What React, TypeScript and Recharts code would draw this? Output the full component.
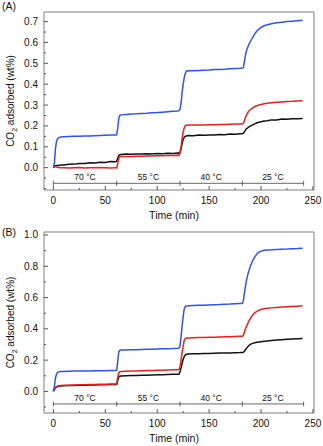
import { LineChart, Line, XAxis, YAxis, ReferenceArea, ReferenceLine, ReferenceDot } from "recharts"

const FONT = '"Liberation Sans", Arial, sans-serif'

// time axis (min), shared by every series
const TIME = [
  0, 1, 2, 3, 4, 5, 7, 10, 15, 20, 25, 30, 35, 40, 45, 50, 55, 60, 61,
  62, 63, 64, 65, 70, 75, 80, 85, 90, 95, 100, 105, 110, 115, 120, 121,
  122, 123, 124, 125, 126, 127, 128, 130, 135, 140, 145, 150, 155, 160, 165, 170, 175, 180, 182,
  183, 184, 185, 186, 187, 188, 190, 192, 194, 196, 198, 200, 203, 206, 210, 215, 220, 225, 230, 235, 240,
]

// panel A
const A_BLUE = [
  0.0, 0.02, 0.09, 0.125, 0.138, 0.143, 0.147, 0.148, 0.149, 0.15, 0.151, 0.152, 0.152, 0.153, 0.154, 0.155, 0.156, 0.157, 0.158,
  0.19, 0.235, 0.25, 0.253, 0.255, 0.257, 0.258, 0.26, 0.261, 0.263, 0.264, 0.266, 0.268, 0.27, 0.272, 0.274,
  0.28, 0.31, 0.36, 0.4, 0.43, 0.45, 0.462, 0.464, 0.465, 0.466, 0.467, 0.468, 0.47, 0.471, 0.472, 0.474, 0.475, 0.476, 0.477,
  0.48, 0.51, 0.54, 0.56, 0.575, 0.587, 0.607, 0.625, 0.642, 0.655, 0.664, 0.672, 0.68, 0.685, 0.69, 0.694, 0.697, 0.7, 0.702, 0.704, 0.706,
]
const A_RED = [
  0.012, 0.008, 0.005, 0.003, 0.002, 0.001, 0.0, 0.0, -0.001, 0.0, 0.001, -0.001, 0.0, 0.0, 0.001, 0.0, -0.001, 0.0, -0.002,
  0.02, 0.045, 0.052, 0.053, 0.054, 0.054, 0.055, 0.055, 0.056, 0.056, 0.057, 0.057, 0.058, 0.058, 0.059, 0.058,
  0.07, 0.1, 0.14, 0.17, 0.19, 0.201, 0.203, 0.204, 0.204, 0.205, 0.205, 0.206, 0.206, 0.207, 0.207, 0.208, 0.209, 0.209, 0.21,
  0.212, 0.225, 0.24, 0.252, 0.262, 0.27, 0.28, 0.287, 0.293, 0.297, 0.3, 0.303, 0.306, 0.309, 0.311, 0.313, 0.315, 0.317, 0.318, 0.32, 0.321,
]
const A_BLACK = [
  0.0, 0.005, 0.009, 0.01, 0.011, 0.011, 0.013, 0.013, 0.016, 0.017, 0.02, 0.02, 0.023, 0.022, 0.026, 0.025, 0.029, 0.028, 0.031,
  0.045, 0.058, 0.062, 0.063, 0.065, 0.064, 0.066, 0.065, 0.067, 0.066, 0.068, 0.067, 0.069, 0.068, 0.07, 0.069,
  0.075, 0.09, 0.115, 0.135, 0.145, 0.15, 0.152, 0.154, 0.153, 0.156, 0.155, 0.157, 0.156, 0.159, 0.158, 0.161, 0.16, 0.162, 0.163,
  0.165, 0.172, 0.18, 0.186, 0.19, 0.194, 0.2, 0.205, 0.21, 0.215, 0.218, 0.22, 0.224, 0.225, 0.229, 0.229, 0.233, 0.232, 0.235, 0.234, 0.236,
]

// panel B
const B_BLUE = [
  0.0, 0.03, 0.085, 0.11, 0.12, 0.125, 0.127, 0.128, 0.129, 0.13, 0.13, 0.131, 0.131, 0.132, 0.132, 0.132, 0.133, 0.133, 0.134,
  0.19, 0.255, 0.262, 0.264, 0.265, 0.266, 0.267, 0.268, 0.269, 0.27, 0.271, 0.272, 0.273, 0.274, 0.276, 0.277,
  0.29, 0.35, 0.42, 0.48, 0.525, 0.543, 0.546, 0.548, 0.549, 0.55, 0.551, 0.553, 0.554, 0.555, 0.557, 0.558, 0.56, 0.562, 0.563,
  0.58, 0.63, 0.67, 0.71, 0.74, 0.765, 0.805, 0.837, 0.86, 0.878, 0.89, 0.897, 0.902, 0.904, 0.905, 0.907, 0.909, 0.91, 0.912, 0.913, 0.915,
]
const B_RED = [
  0.003, 0.015, 0.025, 0.031, 0.034, 0.036, 0.038, 0.039, 0.04, 0.041, 0.042, 0.043, 0.044, 0.044, 0.045, 0.046, 0.047, 0.047, 0.048,
  0.09, 0.12, 0.126, 0.128, 0.129, 0.13, 0.131, 0.132, 0.133, 0.134, 0.135, 0.136, 0.137, 0.138, 0.139, 0.141,
  0.16, 0.2, 0.25, 0.29, 0.325, 0.338, 0.341, 0.342, 0.343, 0.344, 0.345, 0.346, 0.347, 0.348, 0.349, 0.35, 0.351, 0.352, 0.352,
  0.36, 0.38, 0.4, 0.415, 0.43, 0.445, 0.47, 0.488, 0.503, 0.512, 0.519, 0.523, 0.528, 0.531, 0.534, 0.537, 0.539, 0.541, 0.543, 0.545, 0.547,
]
const B_BLACK = [
  0.0, 0.012, 0.022, 0.028, 0.031, 0.033, 0.035, 0.036, 0.037, 0.038, 0.039, 0.04, 0.041, 0.041, 0.042, 0.043, 0.044, 0.044, 0.045,
  0.07, 0.092, 0.097, 0.099, 0.1, 0.101, 0.102, 0.103, 0.104, 0.105, 0.106, 0.107, 0.108, 0.109, 0.11, 0.111,
  0.125, 0.15, 0.18, 0.205, 0.222, 0.232, 0.237, 0.239, 0.24, 0.241, 0.242, 0.243, 0.244, 0.245, 0.246, 0.246, 0.247, 0.248, 0.249,
  0.25, 0.257, 0.266, 0.275, 0.283, 0.292, 0.302, 0.307, 0.311, 0.314, 0.316, 0.318, 0.321, 0.323, 0.325, 0.328, 0.331, 0.333, 0.335, 0.337, 0.339,
]

const X_TICKS = [0, 25, 50, 75, 100, 125, 150, 175, 200, 225, 250]
const A_Y_TICKS = [-0.1, -0.05, 0, 0.05, 0.1, 0.15, 0.2, 0.25, 0.3, 0.35, 0.4, 0.45, 0.5, 0.55, 0.6, 0.65, 0.7]
const B_Y_TICKS = [-0.1, 0, 0.1, 0.2, 0.3, 0.4, 0.5, 0.6, 0.7, 0.8, 0.9, 1.0]

// temperature program bar
const STEP_EDGES = [0, 61, 122, 182, 241]
const STEP_LABELS = ['70 °C', '55 °C', '40 °C', '25 °C']

const BLUE = '#2f52f5'
const RED = '#f01c1c'
const BLACK = '#111'
const FRAME = '#808080'
const TEXT = '#111'

function XTick({ x, y, payload }: any) {
  const major = payload.value % 50 === 0
  return (
    <g>
      <line x1={x} x2={x} y1={y} y2={y - (major ? 4 : 2)} stroke="#555" />
      {major && (
        <text x={x} y={y + 13.5} textAnchor="middle" fontSize={10} fill={TEXT} fontFamily={FONT}>
          {payload.value}
        </text>
      )}
    </g>
  )
}

function makeYTick(step: number) {
  return function YTick({ x, y, payload }: any) {
    const v = payload.value
    const major = v >= 0 && Math.abs(v / step - Math.round(v / step)) < 1e-6
    return (
      <g>
        <line x1={x} x2={x + (major ? 4 : 2)} y1={y} y2={y} stroke="#555" />
        {major && (
          <text x={x - 6} y={y + 3.5} textAnchor="end" fontSize={10} fill={TEXT} fontFamily={FONT}>
            {v.toFixed(1)}
          </text>
        )}
      </g>
    )
  }
}

function YTitle({ viewBox }: any) {
  const cx = 14
  const cy = viewBox.y + viewBox.height / 2
  return (
    <text x={cx} y={cy} transform={`rotate(-90 ${cx} ${cy})`} textAnchor="middle" fontSize={10} fill={TEXT} fontFamily={FONT}>
      CO<tspan fontSize={7} dy={3}>2</tspan>
      <tspan dy={-3}> adsorbed (wt%)</tspan>
    </text>
  )
}

function XTitle({ viewBox }: any) {
  return (
    <text x={viewBox.x + viewBox.width / 2 - 5} y={viewBox.y + 29} textAnchor="middle" fontSize={10.5} fill={TEXT} fontFamily={FONT}>
      Time (min)
    </text>
  )
}

interface PanelProps {
  blue: number[]
  red: number[]
  black: number[]
  height: number
  top: number
  xHeight: number
  yDomain: [number, number]
  yTicks: number[]
  yStep: number
  barY: number
  barTick: number
  labelY: number
}

function Panel(p: PanelProps) {
  const data = TIME.map((t, i) => ({ t, blue: p.blue[i], red: p.red[i], black: p.black[i] }))
  const xDomain: [number, number] = [-9, 251]
  return (
    <LineChart width={323} height={p.height} data={data} margin={{ top: p.top, right: 9, bottom: 0, left: 0 }}>
      <XAxis
        dataKey="t"
        type="number"
        domain={xDomain}
        allowDataOverflow
        ticks={X_TICKS}
        interval={0}
        tickLine={false}
        tickSize={0}
        tickMargin={0}
        axisLine={false}
        height={p.xHeight}
        tick={<XTick />}
        label={<XTitle />}
      />
      <YAxis
        type="number"
        domain={p.yDomain}
        allowDataOverflow
        ticks={p.yTicks}
        interval={0}
        tickLine={false}
        tickSize={0}
        tickMargin={0}
        axisLine={false}
        width={44}
        tick={makeYTick(p.yStep)}
        label={<YTitle />}
      />
      <ReferenceArea x1={xDomain[0]} x2={xDomain[1]} y1={p.yDomain[0]} y2={p.yDomain[1]} fill="none" stroke={FRAME} strokeWidth={1} />
      <ReferenceLine
        segment={[{ x: STEP_EDGES[0], y: p.barY }, { x: STEP_EDGES[STEP_EDGES.length - 1], y: p.barY }]}
        stroke="#444"
        strokeWidth={0.8}
      />
      {STEP_EDGES.map((e) => (
        <ReferenceLine
          key={'e' + e}
          segment={[{ x: e, y: p.barY - p.barTick }, { x: e, y: p.barY + p.barTick }]}
          stroke="#444"
          strokeWidth={0.8}
        />
      ))}
      {STEP_LABELS.map((s, i) => (
        <ReferenceDot
          key={s}
          x={(STEP_EDGES[i] + STEP_EDGES[i + 1]) / 2}
          y={p.labelY}
          r={0}
          stroke="none"
          fill="none"
          label={{ value: s, position: 'center', fontSize: 8.5, fill: TEXT, fontFamily: FONT }}
        />
      ))}
      <Line dataKey="black" stroke={BLACK} strokeWidth={1.5} dot={false} isAnimationActive={false} />
      <Line dataKey="red" stroke={RED} strokeWidth={1.5} dot={false} isAnimationActive={false} />
      <Line dataKey="blue" stroke={BLUE} strokeWidth={1.5} dot={false} isAnimationActive={false} />
    </LineChart>
  )
}

const panelLabel = (txt: string, top: number) => (
  <div style={{ position: 'absolute', left: 2, top, fontSize: 10.5, fontFamily: FONT, color: TEXT }}>{txt}</div>
)

export default function App() {
  return (
    <div style={{ position: 'absolute', left: 0, top: 0, width: 323, height: 446, background: '#fff' }}>
      <Panel
        blue={A_BLUE}
        red={A_RED}
        black={A_BLACK}
        height={222}
        top={12}
        xHeight={32}
        yDomain={[-0.107, 0.746]}
        yTicks={A_Y_TICKS}
        yStep={0.1}
        barY={-0.075}
        barTick={0.012}
        labelY={-0.045}
      />
      <Panel
        blue={B_BLUE}
        red={B_RED}
        black={B_BLACK}
        height={224}
        top={10}
        xHeight={33}
        yDomain={[-0.138, 1.019]}
        yTicks={B_Y_TICKS}
        yStep={0.2}
        barY={-0.08}
        barTick={0.016}
        labelY={-0.042}
      />
      {panelLabel('(A)', 0)}
      {panelLabel('(B)', 226)}
    </div>
  )
}
